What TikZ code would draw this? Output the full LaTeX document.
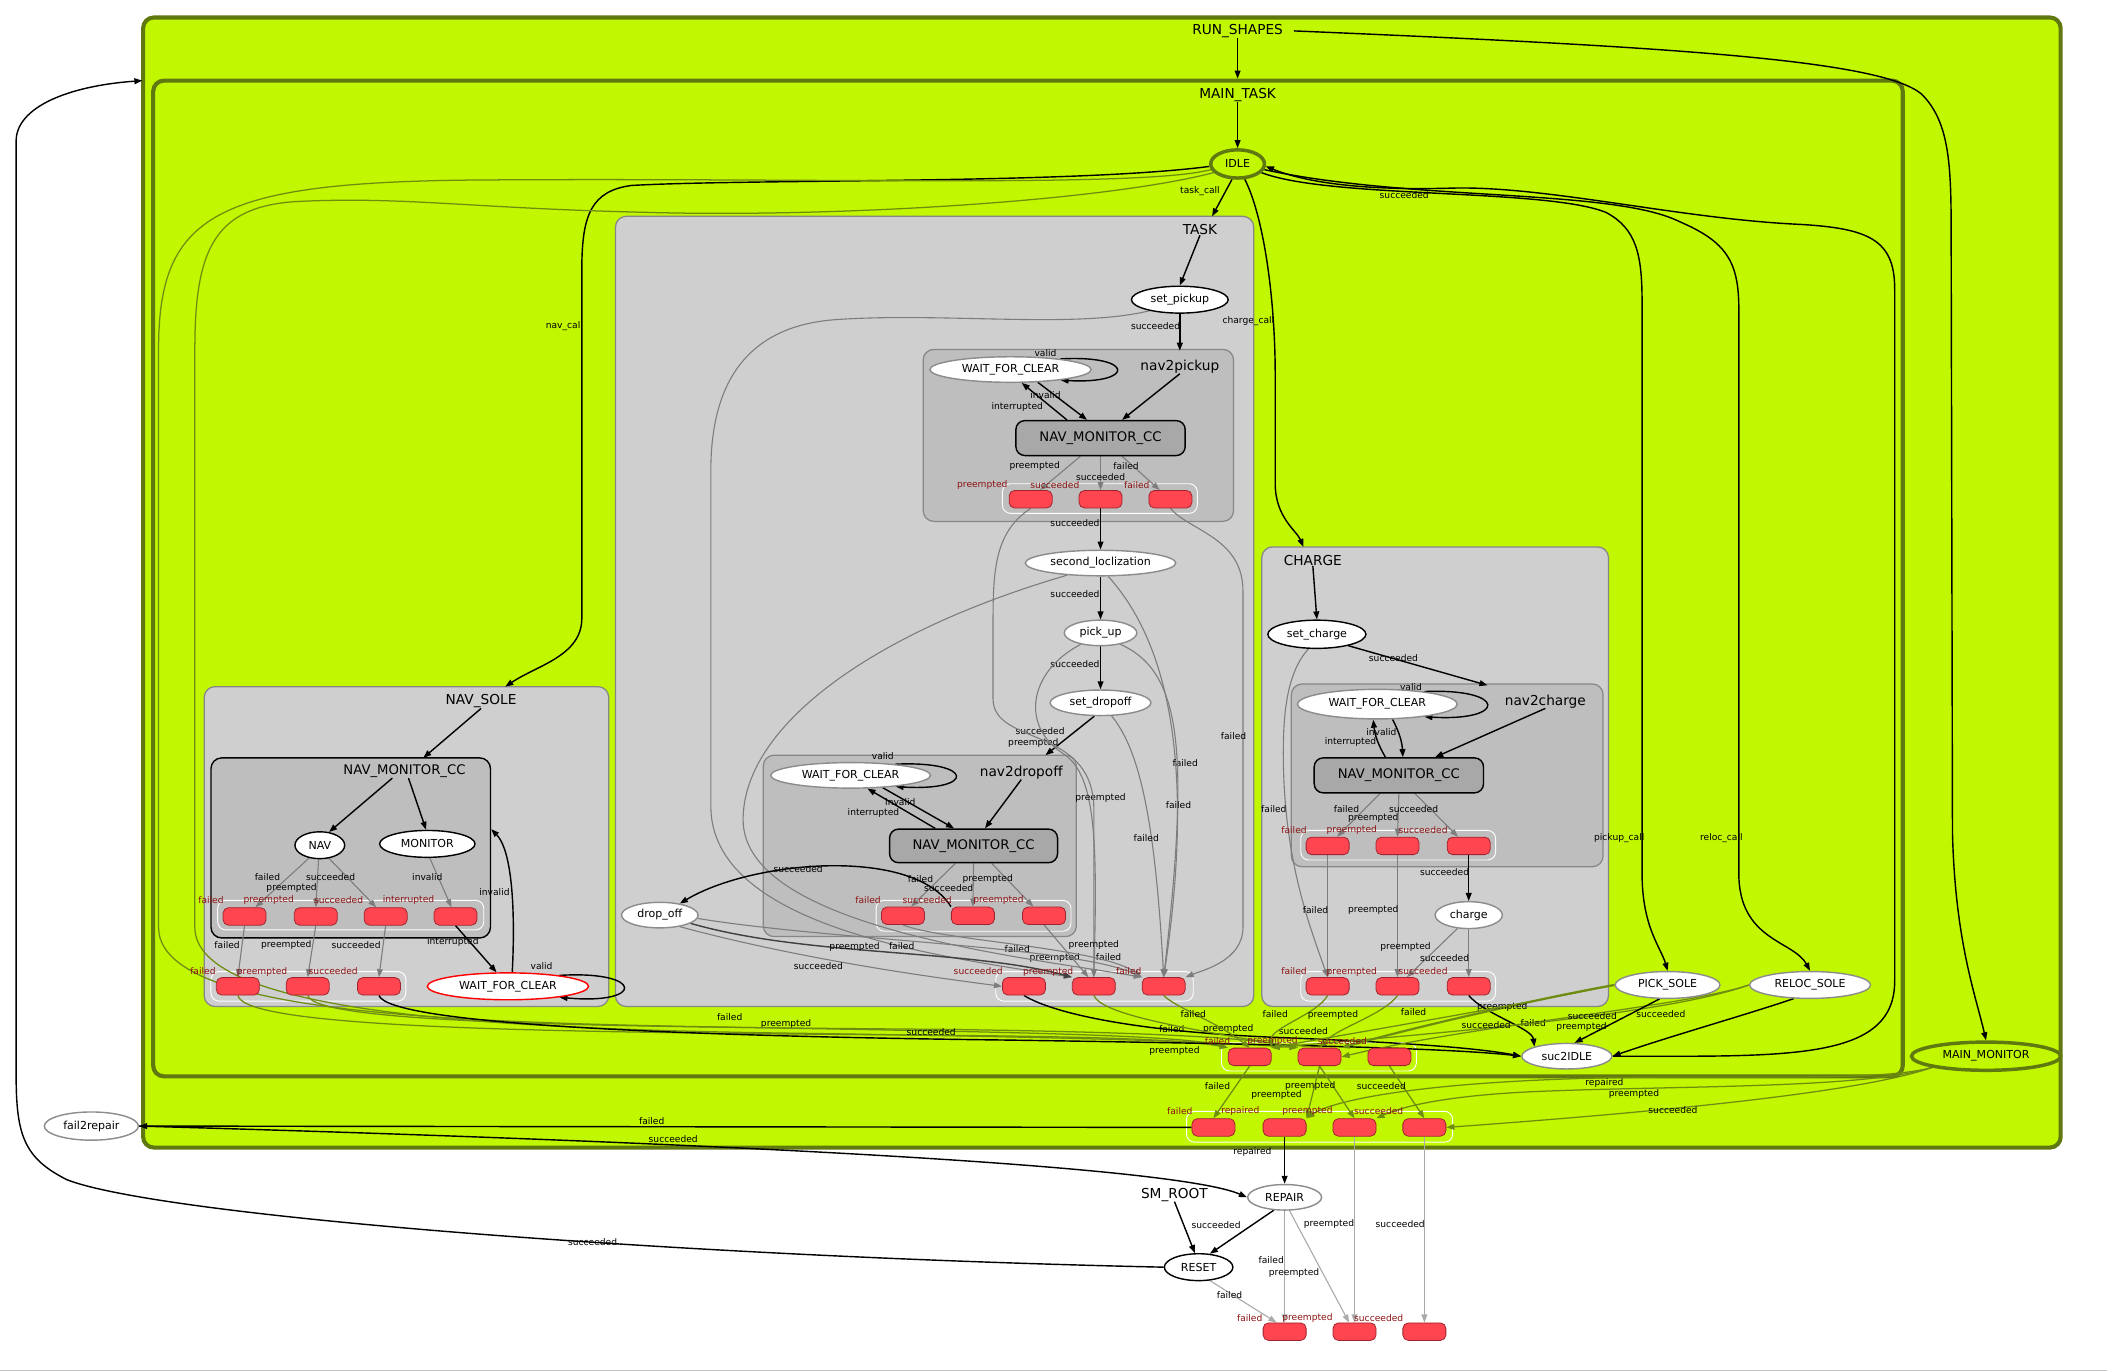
\documentclass[tikz,border=0pt]{standalone}
\usepackage{fontspec}
\setmainfont{DejaVu Sans}
\usetikzlibrary{shapes.geometric,arrows.meta}

\definecolor{limebg}{RGB}{193,247,0}
\definecolor{olivedark}{RGB}{95,120,15}
\definecolor{boxgray}{RGB}{207,207,207}
\definecolor{boxdark}{RGB}{190,190,190}
\definecolor{ccgray}{RGB}{168,168,168}
\definecolor{boxline}{RGB}{135,135,135}
\definecolor{nodegray}{RGB}{140,140,140}
\definecolor{outred}{RGB}{255,70,80}
\definecolor{outline}{RGB}{160,35,45}
\definecolor{redtxt}{RGB}{140,20,20}
\definecolor{edgegray}{RGB}{125,125,125}
\definecolor{edgelight}{RGB}{170,170,170}
\definecolor{edgeolive}{RGB}{110,140,16}

\pgfdeclarelayer{bg}
\pgfdeclarelayer{edges}
\pgfsetlayers{bg,edges,main}

\begin{document}
\begin{tikzpicture}[x=0.3mm, y=-0.3mm,
  wh/.style 2 args={minimum width=#1*0.3mm, minimum height=#2*0.3mm},
  state_node/.style={ellipse, draw=black, fill=white, line width=0.9pt, inner sep=0pt, font=\fontsize{7}{8}\selectfont},
  gray_state/.style={state_node, draw=nodegray},
  active_state/.style={state_node, draw=olivedark, fill=limebg, line width=2.2pt},
  cc_node/.style={rectangle, rounded corners=2mm, draw=black, fill=ccgray, line width=0.9pt, inner sep=0pt, font=\fontsize{8.4}{9}\selectfont},
  out_node/.style={rectangle, rounded corners=1.2mm, draw=outline, fill=outred, line width=0.5pt, wh={32}{13}, inner sep=0pt},
  out_frame/.style={rectangle, rounded corners=1.8mm, draw=white, line width=0.6pt, inner sep=0pt},
  top_box/.style={rectangle, rounded corners=2.4mm, draw=olivedark, fill=limebg, line width=2.6pt, inner sep=0pt},
  cont_box/.style={rectangle, rounded corners=2.4mm, draw=boxline, fill=boxgray, line width=0.8pt, inner sep=0pt},
  sub_box/.style={cont_box, fill=boxdark},
  box_lbl/.style={inner sep=0pt, font=\fontsize{8.7}{9}\selectfont},
  edge_lbl/.style={inner sep=0pt, font=\fontsize{5.8}{6}\selectfont},
  red_lbl/.style={edge_lbl, text=redtxt},
  black_edge/.style={-{Triangle[length=1.8mm,width=1.3mm]}, line width=0.9pt},
  gray_edge/.style={black_edge, draw=edgegray, line width=0.7pt},
  light_edge/.style={black_edge, draw=edgelight, line width=0.7pt},
  olive_edge/.style={black_edge, draw=edgeolive, line width=0.8pt}]

\useasboundingbox (0,0) rectangle (1568,1021);
\draw[gray!45, line width=0.8pt] (0,1020) -- (1568,1020);

% containers
\begin{pgfonlayer}{bg}
\node[top_box, wh={1427}{841}] (run_box) at (820,433.5) {};
\node[top_box, wh={1302}{741}] (main_box) at (765,430.5) {};
\node[cont_box, wh={475}{588}] (task_box) at (695.5,455) {};
\node[sub_box, wh={231}{128}] (pick_box) at (802.5,324) {};
\node[sub_box, wh={233}{135}] (drop_box) at (684.5,629.5) {};
\node[cont_box, wh={258}{342}] (charge_box) at (1068,578) {};
\node[sub_box, wh={232}{136}] (chnav_box) at (1077,577) {};
\node[cont_box, wh={301}{238}] (navsole_box) at (302.5,630) {};
\node[sub_box, draw=black, line width=0.9pt, wh={208}{134}] (navcc_box) at (261,631) {};
% outcome frames
\node[out_frame, wh={145}{22}] (pick_frame) at (818.5,371) {};
\node[out_frame, wh={147}{22}] (task_frame) at (814.5,734) {};
\node[out_frame, wh={145}{23}] (drop_frame) at (724.5,681.5) {};
\node[out_frame, wh={145}{22}] (chnav_frame) at (1040.5,629) {};
\node[out_frame, wh={145}{22}] (charge_frame) at (1040.5,734) {};
\node[out_frame, wh={198}{22}] (navcc_frame) at (261,681) {};
\node[out_frame, wh={145}{22}] (navsole_frame) at (229.5,734) {};
\node[out_frame, wh={145}{21}] (main_frame) at (981.5,786.5) {};
\node[out_frame, wh={198}{23}] (run_frame) at (982,838.5) {};
\end{pgfonlayer}

% container labels
\node[box_lbl] (run_lbl) at (921,23) {RUN\_SHAPES};
\node[box_lbl] (main_lbl) at (921,71) {MAIN\_TASK};
\node[box_lbl] (task_lbl) at (893,171) {TASK};
\node[box_lbl] (pick_lbl) at (878,273) {nav2pickup};
\node[box_lbl] (drop_lbl) at (760,575) {nav2dropoff};
\node[box_lbl] (charge_lbl) at (977,417) {CHARGE};
\node[box_lbl] (chnav_lbl) at (1150,522) {nav2charge};
\node[box_lbl] (navsole_lbl) at (358,522) {NAV\_SOLE};
\node[box_lbl, font=\fontsize{8.4}{9}\selectfont] (navcc_lbl) at (301,574) {NAV\_MONITOR\_CC};
\node[box_lbl] (root_lbl) at (874,889) {SM\_ROOT};

% states
\node[active_state, wh={40}{21}] (idle) at (921,122) {IDLE};
\node[state_node, wh={72}{20}] (set_pickup) at (878,223) {set\_pickup};
\node[gray_state, wh={120}{19}] (pick_wfc) at (752,275) {WAIT\_FOR\_CLEAR};
\node[cc_node, wh={126}{26}] (pick_cc) at (819,326) {NAV\_MONITOR\_CC};
\node[gray_state, wh={112}{19}] (second_loc) at (819,419) {second\_loclization};
\node[gray_state, wh={54}{19}] (pick_up) at (819,471) {pick\_up};
\node[gray_state, wh={75}{19}] (set_dropoff) at (819,523) {set\_dropoff};
\node[gray_state, wh={119}{19}] (drop_wfc) at (633,577) {WAIT\_FOR\_CLEAR};
\node[cc_node, wh={125}{25}] (drop_cc) at (724.5,629.5) {NAV\_MONITOR\_CC};
\node[gray_state, wh={57}{19}] (drop_off) at (491,681) {drop\_off};
\node[state_node, wh={73}{21}] (set_charge) at (980,472) {set\_charge};
\node[gray_state, wh={119}{22}] (chnav_wfc) at (1025,524) {WAIT\_FOR\_CLEAR};
\node[cc_node, wh={126}{26}] (chnav_cc) at (1041,577) {NAV\_MONITOR\_CC};
\node[gray_state, wh={50}{20}] (charge_node) at (1093,681) {charge};
\node[state_node, wh={37}{20}] (nav) at (238,629) {NAV};
\node[state_node, wh={71}{20}] (monitor) at (318,628) {MONITOR};
\node[state_node, draw=red, wh={120}{20}] (navsole_wfc) at (378,734) {WAIT\_FOR\_CLEAR};
\node[gray_state, wh={78}{20}] (pick_sole) at (1241,733) {PICK\_SOLE};
\node[gray_state, wh={90}{20}] (reloc_sole) at (1347,733) {RELOC\_SOLE};
\node[gray_state, wh={67}{19}] (suc2idle) at (1166,786) {suc2IDLE};
\node[active_state, wh={111}{21}] (main_monitor) at (1478,786) {MAIN\_MONITOR};
\node[gray_state, wh={70}{21}] (fail2repair) at (68,838) {fail2repair};
\node[gray_state, wh={55}{19}] (repair) at (956,891) {REPAIR};
\node[state_node, wh={51}{20}] (reset) at (892,943) {RESET};

% outcomes
\node[out_node] (pick_pre) at (767,371.5) {};
\node[out_node] (pick_suc) at (819,371.5) {};
\node[out_node] (pick_fail) at (871,371.5) {};
\node[out_node] (task_suc) at (762,734) {};
\node[out_node] (task_pre) at (814,734) {};
\node[out_node] (task_fail) at (866,734) {};
\node[out_node] (drop_fail) at (672,681.5) {};
\node[out_node] (drop_suc) at (724,681.5) {};
\node[out_node] (drop_pre) at (777,681.5) {};
\node[out_node] (chnav_fail) at (988,629.5) {};
\node[out_node] (chnav_pre) at (1040,629.5) {};
\node[out_node] (chnav_suc) at (1093,629.5) {};
\node[out_node] (charge_fail) at (988,734) {};
\node[out_node] (charge_pre) at (1040,734) {};
\node[out_node] (charge_suc) at (1093,734) {};
\node[out_node] (navcc_fail) at (182,682) {};
\node[out_node] (navcc_pre) at (235,682) {};
\node[out_node] (navcc_suc) at (287,682) {};
\node[out_node] (navcc_int) at (339,682) {};
\node[out_node] (navsole_fail) at (177,734) {};
\node[out_node] (navsole_pre) at (229,734) {};
\node[out_node] (navsole_suc) at (282,734) {};
\node[out_node] (main_fail) at (930,786.5) {};
\node[out_node] (main_pre) at (982,786.5) {};
\node[out_node] (main_suc) at (1034,786.5) {};
\node[out_node] (run_fail) at (903,839) {};
\node[out_node] (run_rep) at (956,839) {};
\node[out_node] (run_pre) at (1008,839) {};
\node[out_node] (run_suc) at (1060,839) {};
\node[out_node] (root_fail) at (956,991) {};
\node[out_node] (root_pre) at (1008,991) {};
\node[out_node] (root_suc) at (1060,991) {};

% outcome labels
\node[red_lbl] (pick_pre_lbl) at (731,361) {preempted};
\node[red_lbl] (pick_suc_lbl) at (785,361) {succeeded};
\node[red_lbl] (pick_fail_lbl) at (846,361) {failed};
\node[red_lbl] (task_suc_lbl) at (728,723) {succeeded};
\node[red_lbl] (task_pre_lbl) at (780,723) {preempted};
\node[red_lbl] (task_fail_lbl) at (840,723) {failed};
\node[red_lbl] (drop_fail_lbl) at (646,670) {failed};
\node[red_lbl] (drop_suc_lbl) at (690,670) {succeeded};
\node[red_lbl] (drop_pre_lbl) at (743,670) {preempted};
\node[red_lbl] (chnav_fail_lbl) at (963,618) {failed};
\node[red_lbl] (chnav_pre_lbl) at (1006,618) {preempted};
\node[red_lbl] (chnav_suc_lbl) at (1059,618) {succeeded};
\node[red_lbl] (charge_fail_lbl) at (963,723) {failed};
\node[red_lbl] (charge_pre_lbl) at (1006,723) {preempted};
\node[red_lbl] (charge_suc_lbl) at (1059,723) {succeeded};
\node[red_lbl] (navcc_fail_lbl) at (157,670) {failed};
\node[red_lbl] (navcc_pre_lbl) at (200,670) {preempted};
\node[red_lbl] (navcc_suc_lbl) at (252,670) {succeeded};
\node[red_lbl] (navcc_int_lbl) at (304,670) {interrupted};
\node[red_lbl] (navsole_fail_lbl) at (151,723) {failed};
\node[red_lbl] (navsole_pre_lbl) at (195,723) {preempted};
\node[red_lbl] (navsole_suc_lbl) at (248,723) {succeeded};
\node[red_lbl] (main_fail_lbl) at (906,775) {failed};
\node[red_lbl] (main_pre_lbl) at (947,775) {preempted};
\node[red_lbl] (main_suc_lbl) at (999,775) {succeeded};
\node[red_lbl] (run_fail_lbl) at (878,827) {failed};
\node[red_lbl] (run_rep_lbl) at (923,827) {repaired};
\node[red_lbl] (run_pre_lbl) at (973,827) {preempted};
\node[red_lbl] (run_suc_lbl) at (1026,827) {succeeded};
\node[red_lbl] (root_fail_lbl) at (930,981) {failed};
\node[red_lbl] (root_pre_lbl) at (973,981) {preempted};
\node[red_lbl] (root_suc_lbl) at (1026,981) {succeeded};

\coordinate (run_in) at (106,60);
\coordinate (task_in) at (902,161);
\coordinate (navsole_in) at (376,511);
\coordinate (charge_in) at (970,407);
\coordinate (pick_in) at (878,261);
\coordinate (drop_in) at (778,562);
\coordinate (chnav_in) at (1107,510);
\coordinate (navcc_in) at (315,564);

\begin{pgfonlayer}{edges}
% top level
\draw[black_edge] (run_lbl.south) -- (run_lbl.south |- main_box.north);
\draw[black_edge] (main_lbl.south) -- (idle.north);
\draw[black_edge] ([xshift=2.4mm]run_lbl.east) .. controls (1250,35) and (1400,45) .. (1430,70) .. controls (1450,90) and (1452,120) .. (1452,170) -- (1453,620) .. controls (1455,700) and (1470,740) .. (main_monitor.north);
\draw[black_edge] (idle.250) -- (task_in) node[edge_lbl] at (893,142) {task\_call};
\draw[black_edge] (idle.185) .. controls (800,137) and (560,133) .. (470,138) .. controls (440,142) and (433,160) .. (433,200) -- (433,460) .. controls (433,488) and (400,495) .. (navsole_in) node[edge_lbl] at (420,243) {nav\_call};
\draw[black_edge] (idle.-65) .. controls (940,160) and (949,220) .. (949,280) -- (949,360) .. controls (949,385) and (965,395) .. (charge_in) node[edge_lbl] at (929,239) {charge\_call};
\draw[black_edge] (idle.-20) .. controls (990,148) and (1150,140) .. (1195,158) .. controls (1218,170) and (1222,190) .. (1222,225) -- (1222,650) .. controls (1222,690) and (1236,705) .. (pick_sole.north) node[edge_lbl] at (1205,624) {pickup\_call};
\draw[black_edge] (idle.-12) .. controls (1050,150) and (1200,140) .. (1250,165) .. controls (1285,180) and (1294,195) .. (1294,230) -- (1294,650) .. controls (1294,700) and (1335,700) .. (reloc_sole.north) node[edge_lbl] at (1281,624) {reloc\_call};
\draw[black_edge] (suc2idle.east) .. controls (1330,786) and (1410,790) .. (1410,730) -- (1410,215) .. controls (1410,178) and (1390,170) .. (1340,167) .. controls (1250,163) and (1150,138) .. (1080,140) .. controls (1010,142) and (970,135) .. (idle.-5) node[edge_lbl] at (1045,145) {succeeded};
\draw[olive_edge] (idle.192) .. controls (850,140) and (600,132) .. (350,134) .. controls (160,136) and (118,160) .. (118,260) -- (118,690) .. controls (118,750) and (300,760) .. (520,764) .. controls (750,768) and (880,770) .. (main_fail.north west) node[edge_lbl] at (543,757) {failed};
\draw[olive_edge] (idle.200) .. controls (820,150) and (620,162) .. (480,158) .. controls (350,155) and (300,146) .. (220,150) .. controls (160,154) and (145,185) .. (145,260) -- (145,690) .. controls (145,752) and (350,766) .. (600,769) .. controls (800,772) and (900,775) .. (main_pre.north west) node[edge_lbl] at (585,762) {preempted};

% lower band
\draw[olive_edge] (navsole_fail.south) .. controls (182,765) and (400,768) .. (650,770) .. controls (800,771) and (880,773) .. (main_fail.north west) node[edge_lbl] at (872,766) {failed};
\draw[olive_edge] (navsole_pre.south) .. controls (235,762) and (450,764) .. (700,766) .. controls (850,768) and (930,772) .. (main_pre.north west) node[edge_lbl] at (914,766) {preempted};
\draw[black_edge] (navsole_suc.south) .. controls (290,762) and (500,771) .. (750,774) .. controls (950,777) and (1080,780) .. (suc2idle.west) node[edge_lbl] at (693,768) {succeeded};
\draw[black_edge] (task_suc.south) .. controls (785,755) and (850,768) .. (950,772) .. controls (1050,776) and (1100,780) .. (suc2idle.west) node[edge_lbl] at (970,767) {succeeded};
\draw[olive_edge] (task_pre.south) .. controls (820,755) and (880,765) .. (main_pre.north west) node[edge_lbl] at (874,782) {preempted};
\draw[olive_edge] (task_fail.south) .. controls (875,750) and (905,760) .. (main_fail.north) node[edge_lbl] at (888,755) {failed};
\draw[olive_edge] (charge_fail.south) .. controls (980,755) and (945,765) .. (main_fail.north east) node[edge_lbl] at (949,755) {failed};
\draw[olive_edge] (charge_pre.south) .. controls (1030,755) and (995,765) .. (main_pre.north) node[edge_lbl] at (992,755) {preempted};
\draw[black_edge] (charge_suc.south) .. controls (1105,755) and (1140,765) .. (suc2idle.north west);
\draw[olive_edge, line width=1.4pt] (pick_sole.west) .. controls (1150,742) and (1050,765) .. (main_pre.north east) node[edge_lbl] at (1118,749) {preempted};
\draw[olive_edge] (pick_sole.west) .. controls (1120,750) and (1000,770) .. (main_fail.north east) node[edge_lbl] at (1052,753) {failed};
\draw[olive_edge] (reloc_sole.west) .. controls (1250,750) and (1100,762) .. (main_pre.east) node[edge_lbl] at (1141,761) {failed};
\draw[olive_edge] (reloc_sole.west) .. controls (1240,755) and (1080,768) .. (main_fail.north east) node[edge_lbl] at (1106,763) {succeeded};
\draw[black_edge] (pick_sole.-120) -- (suc2idle.60) node[edge_lbl] at (1185,756) {succeeded} node[edge_lbl] at (1177,764) {preempted};
\draw[black_edge] (reloc_sole.-140) .. controls (1300,755) and (1240,772) .. (suc2idle.east) node[edge_lbl] at (1236,755) {succeeded};
\draw[olive_edge] (main_fail.south) -- (run_fail.north) node[edge_lbl] at (906,808) {failed};
\draw[olive_edge] (main_pre.south) -- (run_rep.north east) node[edge_lbl] at (950,815) {preempted};
\draw[olive_edge] (main_pre.south) -- (run_pre.north) node[edge_lbl] at (975,808) {preempted};
\draw[olive_edge] (main_suc.south) -- (run_suc.north) node[edge_lbl] at (1028,808) {succeeded};
\draw[olive_edge] (main_monitor.south west) .. controls (1400,805) and (1300,800) .. (1200,802) .. controls (1050,805) and (990,820) .. (run_rep.north east) node[edge_lbl] at (1194,806) {repaired};
\draw[olive_edge] (main_monitor.south west) .. controls (1390,810) and (1250,808) .. (1150,812) .. controls (1070,815) and (1040,825) .. (run_pre.north east) node[edge_lbl] at (1216,814) {preempted};
\draw[olive_edge] (main_monitor.south west) .. controls (1380,815) and (1200,830) .. (run_suc.east) node[edge_lbl] at (1245,826) {succeeded};

% root level
\draw[black_edge] (run_fail.west) -- (fail2repair.east) node[edge_lbl] at (485,834) {failed};
\draw[black_edge] (fail2repair.east) .. controls (600,852) and (880,870) .. (repair.west) node[edge_lbl] at (501,848) {succeeded};
\draw[black_edge] (run_rep.south) -- (repair.north) node[edge_lbl] at (932,857) {repaired};
\draw[black_edge] (root_lbl.south) -- (reset.105);
\draw[black_edge] (repair.-130) -- (reset.50) node[edge_lbl] at (905,912) {succeeded};
\draw[black_edge] (reset.west) .. controls (500,935) and (120,905) .. (50,878) .. controls (18,862) and (12,845) .. (12,800) -- (12,105) .. controls (12,80) and (50,64) .. (run_in) node[edge_lbl] at (441,924) {succeeded};
\draw[light_edge] (repair.south) -- (root_fail.north) node[edge_lbl] at (946,938) {failed};
\draw[light_edge] (repair.-70) -- ([xshift=-1.2mm]root_pre.north) node[edge_lbl] at (963,947) {preempted};
\draw[light_edge] (reset.-50) -- ([xshift=-1.8mm]root_fail.north) node[edge_lbl] at (915,964) {failed};
\draw[light_edge] (run_pre.south) -- (root_pre.north) node[edge_lbl] at (989,911) {preempted};
\draw[light_edge] (run_suc.south) -- (root_suc.north) node[edge_lbl] at (1042,911) {succeeded};

% TASK
\draw[black_edge] (task_lbl.south) -- (set_pickup.north);
\draw[black_edge] (set_pickup.south) -- (pick_in) node[edge_lbl] at (860,243) {succeeded};
\draw[black_edge] (pick_lbl.south) -- ([xshift=4.8mm]pick_cc.north);
\draw[black_edge] (pick_wfc.-25) -- ([xshift=-3mm]pick_cc.north) node[edge_lbl] at (778,294) {invalid};
\draw[black_edge] ([xshift=-7.5mm]pick_cc.north) -- (pick_wfc.-50) node[edge_lbl] at (757,303) {interrupted};
\draw[black_edge] (pick_wfc.12) .. controls (845,264) and (845,286) .. (pick_wfc.-12) node[edge_lbl] at (778,263) {valid};
\draw[gray_edge] ([xshift=-4.5mm]pick_cc.south) -- ([xshift=2.1mm]pick_pre.north) node[edge_lbl] at (770,347) {preempted};
\draw[gray_edge] (pick_cc.south) -- (pick_suc.north) node[edge_lbl] at (819,355) {succeeded};
\draw[gray_edge] ([xshift=4.8mm]pick_cc.south) -- ([xshift=-2.4mm]pick_fail.north) node[edge_lbl] at (838,347) {failed};
\draw[black_edge] (pick_suc.south) -- (second_loc.north) node[edge_lbl] at (800,389) {succeeded};
\draw[black_edge] (second_loc.south) -- (pick_up.north) node[edge_lbl] at (800,442) {succeeded};
\draw[black_edge] (pick_up.south) -- (set_dropoff.north) node[edge_lbl] at (800,494) {succeeded};
\draw[black_edge] (set_dropoff.-115) -- (drop_in) node[edge_lbl] at (774,544) {succeeded} node[edge_lbl] at (769,553) {preempted};
\draw[gray_edge] (set_pickup.200) .. controls (800,245) and (700,232) .. (620,238) .. controls (560,243) and (529,280) .. (529,350) -- (529,600) .. controls (529,690) and (700,712) .. (task_pre.north west) node[edge_lbl] at (785,713) {preempted};
\draw[gray_edge] (second_loc.200) .. controls (650,470) and (553,540) .. (553,610) .. controls (553,690) and (760,712) .. (task_fail.north west) node[edge_lbl] at (825,712) {failed};
\draw[gray_edge] (second_loc.-60) .. controls (880,490) and (885,600) .. (task_fail.north) node[edge_lbl] at (882,568) {failed};
\draw[gray_edge] (pick_up.-150) .. controls (765,500) and (760,540) .. (790,560) .. controls (815,575) and (817,620) .. (task_pre.north) node[edge_lbl] at (819,594) {preempted};
\draw[gray_edge] (pick_up.-30) .. controls (880,500) and (885,560) .. (task_fail.north) node[edge_lbl] at (877,599) {failed};
\draw[gray_edge] (set_dropoff.-50) .. controls (850,560) and (860,620) .. (task_fail.north) node[edge_lbl] at (853,624) {failed};
\draw[gray_edge] (pick_pre.south) .. controls (742,395) and (739,420) .. (739,460) -- (739,520) .. controls (739,555) and (812,540) .. (814,600) -- (task_pre.north);
\draw[gray_edge] (pick_fail.south) .. controls (885,395) and (925,400) .. (925,440) -- (925,690) .. controls (925,715) and (895,722) .. (task_fail.north east) node[edge_lbl] at (918,548) {failed};

% nav2dropoff
\draw[black_edge] (drop_lbl.south) -- ([xshift=2.55mm]drop_cc.north);
\draw[black_edge] (drop_wfc.-21) -- ([xshift=-4.35mm]drop_cc.north) node[edge_lbl] at (670,597) {invalid};
\draw[black_edge] ([xshift=-8.55mm]drop_cc.north) -- (drop_wfc.-38) node[edge_lbl] at (650,605) {interrupted};
\draw[black_edge] (drop_wfc.14) .. controls (726,566) and (726,589) .. (drop_wfc.-14) node[edge_lbl] at (657,563) {valid};
\draw[gray_edge] ([xshift=-4.05mm]drop_cc.south) -- ([xshift=1.8mm]drop_fail.north) node[edge_lbl] at (685,654) {failed};
\draw[gray_edge] (drop_cc.south) -- (drop_suc.north) node[edge_lbl] at (706,661) {succeeded};
\draw[gray_edge] ([xshift=4.05mm]drop_cc.south) -- ([xshift=-2.4mm]drop_pre.north) node[edge_lbl] at (735,654) {preempted};
\draw[black_edge] (drop_suc.north west) .. controls (680,630) and (560,640) .. (drop_off.30) node[edge_lbl] at (594,647) {succeeded};
\draw[gray_edge] (drop_fail.south) .. controls (700,700) and (820,705) .. (task_fail.north west) node[edge_lbl] at (757,706) {failed};
\draw[gray_edge] (drop_pre.south) -- ([xshift=-1.2mm]task_pre.north) node[edge_lbl] at (814,703) {preempted};
\draw[gray_edge] (drop_off.-30) .. controls (600,715) and (700,728) .. (task_suc.west) node[edge_lbl] at (609,719) {succeeded};
\draw[black_edge, draw=black!75] (drop_off.-15) .. controls (600,712) and (720,706) .. (task_pre.north west) node[edge_lbl] at (636,705) {preempted};
\draw[gray_edge] (drop_off.-5) .. controls (620,700) and (800,704) .. (task_fail.north west) node[edge_lbl] at (671,704) {failed};

% CHARGE
\draw[black_edge] (charge_lbl.south) -- (set_charge.north);
\draw[black_edge] (set_charge.-20) -- (chnav_in) node[edge_lbl] at (1037,490) {succeeded};
\draw[gray_edge] (set_charge.-120) .. controls (958,500) and (955,530) .. (955,560) .. controls (955,640) and (975,690) .. (charge_fail.north) node[edge_lbl] at (948,602) {failed};
\draw[black_edge] (chnav_lbl.south) -- ([xshift=8.1mm]chnav_cc.north);
\draw[black_edge] ([xshift=-3mm]chnav_cc.north) to[bend left=12] (chnav_wfc.-105);
\draw[black_edge] (chnav_wfc.-45) to[bend left=12] ([xshift=0.9mm]chnav_cc.north);
\node[edge_lbl] (chnav_inv_lbl) at (1028,545) {invalid};
\node[edge_lbl] (chnav_int_lbl) at (1005,552) {interrupted};
\draw[black_edge] (chnav_wfc.15) .. controls (1122,512) and (1122,537) .. (chnav_wfc.-15) node[edge_lbl] at (1050,511) {valid};
\draw[gray_edge] ([xshift=-4.2mm]chnav_cc.south) -- ([xshift=2.1mm]chnav_fail.north) node[edge_lbl] at (1002,602) {failed};
\draw[gray_edge] (chnav_cc.south) -- (chnav_pre.north) node[edge_lbl] at (1022,609) {preempted};
\draw[gray_edge] ([xshift=3.6mm]chnav_cc.south) -- ([xshift=-2.4mm]chnav_suc.north) node[edge_lbl] at (1052,602) {succeeded};
\draw[gray_edge] (chnav_fail.south) -- (charge_fail.north) node[edge_lbl] at (979,677) {failed};
\draw[gray_edge] (chnav_pre.south) -- (charge_pre.north) node[edge_lbl] at (1022,677) {preempted};
\draw[black_edge] (chnav_suc.south) -- (charge_node.north) node[edge_lbl] at (1075,649) {succeeded};
\draw[gray_edge] (charge_node.-130) -- ([xshift=2.1mm]charge_pre.north) node[edge_lbl] at (1046,705) {preempted};
\draw[gray_edge] (charge_node.south) -- (charge_suc.north) node[edge_lbl] at (1075,713) {succeeded};

% NAV_SOLE
\draw[black_edge] (navsole_lbl.south) -- (navcc_in);
\draw[black_edge] ([xshift=-2.7mm]navcc_lbl.south) -- (nav.55);
\draw[black_edge] ([xshift=0.9mm]navcc_lbl.south) -- (monitor.95);
\draw[gray_edge] (nav.-130) -- ([xshift=2.4mm]navcc_fail.north) node[edge_lbl] at (199,653) {failed};
\draw[gray_edge] (nav.-95) -- (navcc_pre.north) node[edge_lbl] at (217,661) {preempted};
\draw[gray_edge] (nav.-55) -- ([xshift=-2.1mm]navcc_suc.north) node[edge_lbl] at (246,653) {succeeded};
\draw[gray_edge] (monitor.-80) -- ([xshift=-0.9mm]navcc_int.north) node[edge_lbl] at (318,653) {invalid};
\draw[gray_edge] (navcc_fail.south) -- (navsole_fail.north) node[edge_lbl] at (169,703) {failed};
\draw[gray_edge] (navcc_pre.south) -- (navsole_pre.north) node[edge_lbl] at (213,703) {preempted};
\draw[gray_edge] (navcc_suc.south) -- (navsole_suc.north) node[edge_lbl] at (265,703) {succeeded};
\draw[black_edge] (navcc_int.south) -- (navsole_wfc.129) node[edge_lbl] at (337,701) {interrupted};
\draw[black_edge] (navsole_wfc.73) .. controls (383,690) and (383,635) .. ([yshift=4.2mm]navcc_box.east) node[edge_lbl] at (368,664) {invalid};
\draw[black_edge] (navsole_wfc.12) .. controls (480,722) and (480,748) .. (navsole_wfc.-12) node[edge_lbl] at (403,719) {valid};
\end{pgfonlayer}

\end{tikzpicture}
\end{document}
